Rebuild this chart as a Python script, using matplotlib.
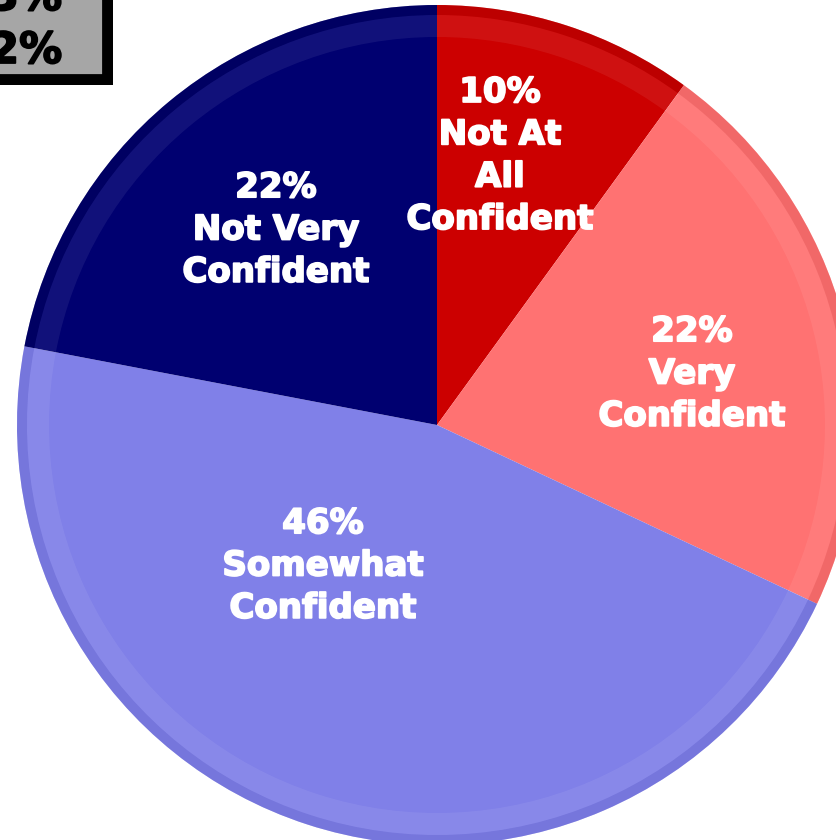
import matplotlib.pyplot as plt
import matplotlib.patheffects as pe
from matplotlib.patches import Rectangle, Wedge

# slice data, clockwise from 12 o'clock
labels = ["Not At\nAll\nConfident", "Very\nConfident", "Somewhat\nConfident", "Not Very\nConfident"]
shares = [10, 22, 46, 22]
colors = ["#cc0000", "#ff7272", "#8080e8", "#000070"]
rim_colors = ["#a00000", "#d85858", "#6464c8", "#00004a"]

# legend box fragment in the top-left corner (cut off by the frame)
box_lines = ["3%", "2%"]

# layout in pixel coords (origin bottom-left)
W, H = 837, 840
cx, cy, r = 437, 415, 420
label_pos = [(500, 684), (692, 466), (323, 274), (276, 610)]

fig = plt.figure(figsize=(W / 100, H / 100), dpi=100)
ax = fig.add_axes([0, 0, 1, 1])

wedges, _ = ax.pie(
    shares,
    colors=colors,
    startangle=90,
    counterclock=False,
    center=(cx, cy),
    radius=r,
    wedgeprops=dict(linewidth=0),
)

# soft bevel: slightly darker rim + faint highlight band inside it
for w, rc in zip(wedges, rim_colors):
    t1, t2 = w.theta1, w.theta2
    ax.add_patch(Wedge((cx, cy), r, t1, t2, width=10, facecolor=rc, alpha=0.35, lw=0))
    ax.add_patch(Wedge((cx, cy), r - 10, t1, t2, width=22, facecolor="white", alpha=0.07, lw=0))

bold = [pe.withStroke(linewidth=1.3, foreground="white")]
for (x, y), lab, s in zip(label_pos, labels, shares):
    ax.text(x, y, f"{s}%\n{lab}", ha="center", va="center", color="white",
            fontsize=24.5, fontweight="bold", linespacing=1.36, path_effects=bold)

# grey box with shadow, partly outside the frame
ax.add_patch(Rectangle((-40, 755), 153, 130, facecolor="black", lw=0, zorder=5))
ax.add_patch(Rectangle((-40, 765), 143, 130, facecolor="#a6a6a6", edgecolor="black", lw=2, zorder=6))
dark = [pe.withStroke(linewidth=1.3, foreground="black")]
ax.text(62, 830, box_lines[0], ha="right", va="baseline", fontsize=31,
        fontweight="bold", zorder=7, path_effects=dark)
ax.text(62, 777, box_lines[1], ha="right", va="baseline", fontsize=31,
        fontweight="bold", zorder=7, path_effects=dark)

ax.set_xlim(0, W)
ax.set_ylim(0, H)
ax.set_aspect("equal")
ax.axis("off")

fig.savefig("out.png", dpi=100, facecolor="white")
